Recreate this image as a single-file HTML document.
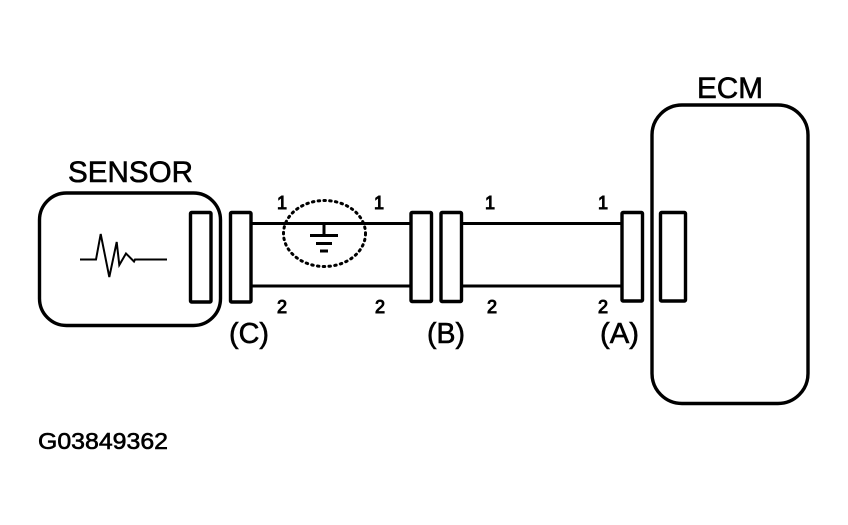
<!DOCTYPE html>
<html>
<head>
<meta charset="utf-8">
<style>
html,body{margin:0;padding:0;background:#fff;}
svg{display:block;}
text{font-family:"Liberation Sans",sans-serif;fill:#000;stroke:#000;stroke-width:.6;}
text.n{font-size:18px;stroke-width:1;}
</style>
</head>
<body>
<svg width="848" height="525" viewBox="0 0 848 525" xmlns="http://www.w3.org/2000/svg">
<rect width="848" height="525" fill="#fff"/>
<g fill="none" stroke="#000" stroke-width="3.400">
  <rect x="39.500" y="193" width="181" height="132.500" rx="27" ry="27"/>
  <rect x="652" y="105" width="156" height="298.500" rx="30" ry="30"/>
  <g stroke-linejoin="round">
    <rect x="190.500" y="212.500" width="20.500" height="89.500" rx="1"/>
    <rect x="230.500" y="212.500" width="20.500" height="89.500" rx="1"/>
    <rect x="411" y="212.500" width="20.500" height="89" rx="1"/>
    <rect x="441" y="212.500" width="20.500" height="89" rx="1"/>
    <rect x="622" y="212.500" width="20.500" height="88.500" rx="1"/>
    <rect x="660.500" y="212.500" width="25" height="88.500" rx="1"/>
  </g>
  <path d="M252 223.500H410M252 286H410M462 223.500H621M462 286H621" stroke-width="3"/>
  <path d="M324 224V235M310 235.500H338" stroke-width="3"/>
  <path d="M316 243.500H332M320 251H328" stroke-width="3"/>
  <ellipse cx="324.500" cy="233.500" rx="41" ry="33" stroke-width="3" stroke-dasharray="1.500 4.300" stroke-linecap="round"/>
  <polyline points="80,259.500 96,259.500 100.700,234 109.300,277 116.700,242 119.300,265 126,253.500 134,261.500 135,259.500 167,259.500" stroke-width="2" stroke-linejoin="miter"/>
</g>
<text x="68" y="182" font-size="30" textLength="125" lengthAdjust="spacingAndGlyphs">SENSOR</text>
<text x="697" y="98" font-size="30" textLength="66" lengthAdjust="spacingAndGlyphs">ECM</text>
<text x="229" y="343" font-size="29" textLength="40" lengthAdjust="spacingAndGlyphs">(C)</text>
<text x="427" y="343" font-size="29" textLength="38" lengthAdjust="spacingAndGlyphs">(B)</text>
<text x="600" y="343" font-size="29" textLength="39" lengthAdjust="spacingAndGlyphs">(A)</text>
<text x="38" y="449" font-size="23" textLength="130" lengthAdjust="spacingAndGlyphs">G03849362</text>
<text class="n" x="277" y="209">1</text>
<text class="n" x="374" y="209">1</text>
<text class="n" x="485" y="209">1</text>
<text class="n" x="598" y="209">1</text>
<text class="n" x="277" y="313">2</text>
<text class="n" x="375" y="313">2</text>
<text class="n" x="487" y="313">2</text>
<text class="n" x="598" y="313">2</text>
</svg>
</body>
</html>
